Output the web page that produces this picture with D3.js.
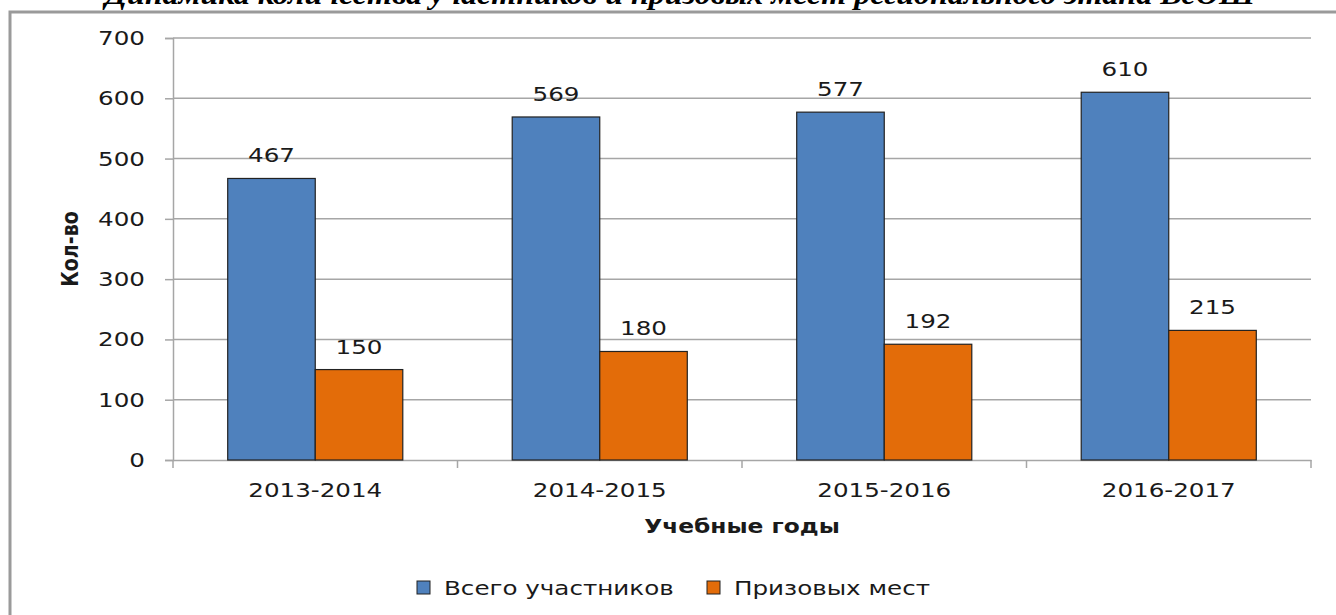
<!DOCTYPE html>
<html>
<head>
<meta charset="utf-8">
<script src="https://cdn.jsdelivr.net/npm/d3@7"></script>
<style>
  body { margin: 0; background: #fff; }
  text { font-family: "DejaVu Sans", Verdana, sans-serif; fill: #1a1a1a; }
</style>
</head>
<body>
<div id="chart"></div>
<script>
// data
const years = ["2013-2014", "2014-2015", "2015-2016", "2016-2017"];
const seriesNames = ["Всего участников", "Призовых мест"];
const totalParticipants = [467, 569, 577, 610];
const prizePlaces = [150, 180, 192, 215];
const yTicks = [0, 100, 200, 300, 400, 500, 600, 700];
const colors = ["#4F81BD", "#E36C09"];

const W = 1336, H = 615;
const SX = 1.23; // the original picture is stretched horizontally

const svg = d3.select("#chart").append("svg")
    .attr("width", W)
    .attr("height", H);

const plot = { left: 173, right: 1311, top: 38, bottom: 460 };

// stretched text helper
function label(parent, x, y, str, opts = {}) {
    return parent.append("text")
        .attr("transform", `translate(${x},${y}) scale(${opts.sx || SX},1)`)
        .attr("text-anchor", opts.anchor || "middle")
        .style("font-size", (opts.size || 20) + "px")
        .style("font-weight", opts.weight || "normal")
        .text(str);
}

// title (clipped at the top, like the original)
svg.append("text")
    .attr("x", 105)
    .attr("y", 4)
    .attr("textLength", 1150)
    .attr("lengthAdjust", "spacingAndGlyphs")
    .style("font-family", "'Liberation Serif', 'Times New Roman', serif")
    .style("font-weight", "bold")
    .style("font-style", "italic")
    .style("font-size", "30px")
    .style("fill", "#000")
    .text("Динамика количества участников и призовых мест регионального этапа ВсОШ");

// chart frame
svg.append("path")
    .attr("d", `M10,${H} V12 H${W}`)
    .attr("fill", "none")
    .attr("stroke", "#9a9a9a")
    .attr("stroke-width", 3);

// scales
const x0 = d3.scaleBand()
    .domain(years)
    .range([plot.left, plot.right]);

const x1 = d3.scaleBand()
    .domain(seriesNames)
    .range([0, x0.bandwidth()])
    .paddingOuter(0.625);

const y = d3.scaleLinear()
    .domain([0, 700])
    .range([plot.bottom, plot.top]);

// gridlines
svg.append("g")
    .selectAll("line")
    .data(yTicks.filter(d => d > 0))
    .join("line")
    .attr("x1", plot.left)
    .attr("x2", plot.right)
    .attr("y1", d => y(d))
    .attr("y2", d => y(d))
    .attr("stroke", "#a6a6a6")
    .attr("stroke-width", 1.5);

// y axis
const yAxis = svg.append("g")
    .attr("transform", `translate(${plot.left},0)`)
    .call(d3.axisLeft(y).tickValues(yTicks).tickSize(8).tickFormat(() => ""));
yAxis.select(".domain").attr("stroke", "#a6a6a6").attr("stroke-width", 1.5);
yAxis.selectAll(".tick line").attr("stroke", "#a6a6a6").attr("stroke-width", 1.5);

yTicks.forEach(t => {
    label(svg, 145, y(t) + 7, String(t), { anchor: "end" });
});

// x axis
const xAxis = svg.append("g")
    .attr("transform", `translate(0,${plot.bottom})`)
    .call(d3.axisBottom(x0).tickSize(0).tickFormat(() => ""));
xAxis.select(".domain").attr("stroke", "#a6a6a6").attr("stroke-width", 1.5);

// boundary ticks between categories
const bounds = years.map(d => x0(d)).concat([x0.range()[1]]);
svg.append("g")
    .selectAll("line")
    .data(bounds)
    .join("line")
    .attr("x1", d => d)
    .attr("x2", d => d)
    .attr("y1", plot.bottom)
    .attr("y2", plot.bottom + 8)
    .attr("stroke", "#a6a6a6")
    .attr("stroke-width", 1.5);

years.forEach(yr => {
    label(svg, x0(yr) + x0.bandwidth() / 2, 497, yr);
});

// bars
const rows = years.map((yr, i) => ({
    year: yr,
    values: [totalParticipants[i], prizePlaces[i]]
}));

const groups = svg.append("g")
    .selectAll("g")
    .data(rows)
    .join("g")
    .attr("transform", d => `translate(${x0(d.year)},0)`);

groups.selectAll("rect")
    .data(d => d.values.map((v, j) => ({ name: seriesNames[j], value: v, idx: j })))
    .join("rect")
    .attr("x", d => x1(d.name))
    .attr("y", d => y(d.value))
    .attr("width", x1.bandwidth())
    .attr("height", d => y(0) - y(d.value))
    .attr("fill", d => colors[d.idx])
    .attr("stroke", "#222")
    .attr("stroke-width", 1.2);

// data labels
rows.forEach(r => {
    r.values.forEach((v, j) => {
        const g = svg.append("g");
        label(g, x0(r.year) + x1(seriesNames[j]) + x1.bandwidth() / 2, y(v) - 16, String(v));
    });
});

// axis titles
label(svg, (plot.left + plot.right) / 2, 533, "Учебные годы", { size: 19, weight: "bold" });

svg.append("text")
    .attr("transform", `translate(78,${(plot.top + plot.bottom) / 2}) rotate(-90) scale(1,${SX})`)
    .attr("text-anchor", "middle")
    .style("font-size", "19px")
    .style("font-weight", "bold")
    .text("Кол-во");

// legend
const legendX = [417, 707];
seriesNames.forEach((name, i) => {
    svg.append("rect")
        .attr("x", legendX[i])
        .attr("y", 581)
        .attr("width", 13)
        .attr("height", 13)
        .attr("fill", colors[i])
        .attr("stroke", "#222")
        .attr("stroke-width", 1);
    label(svg, legendX[i] + 27, 595, name, { anchor: "start" });
});
</script>
</body>
</html>
